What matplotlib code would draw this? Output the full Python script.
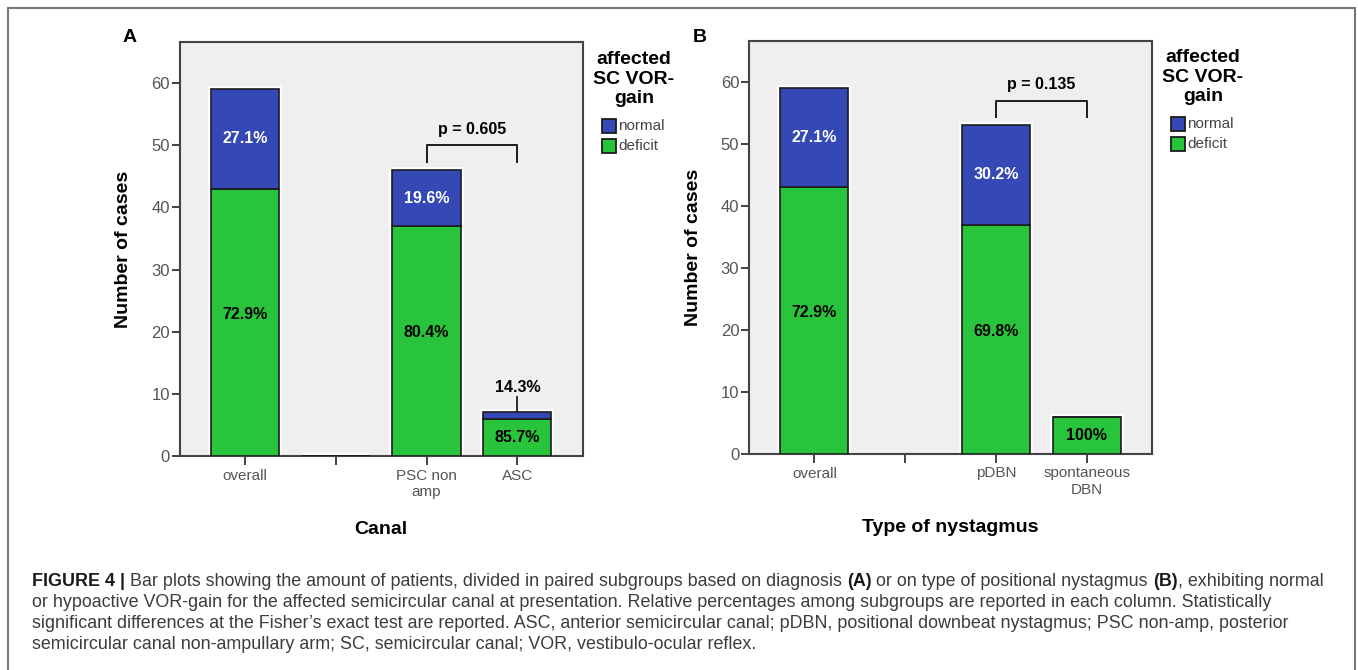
import matplotlib
matplotlib.use("Agg")
import matplotlib.pyplot as plt
from matplotlib.patches import Rectangle
import numpy as np

plt.rcParams["font.family"] = ["Liberation Sans", "DejaVu Sans"]

W, H = 1358, 670

# panel A: canal
canal_labels = ["overall", "", "PSC non\namp", "ASC"]
canal_deficit = [43, 0, 37, 6]
canal_normal = [16, 0, 9, 1]
canal_pct_normal = ["27.1%", "", "19.6%", "14.3%"]
canal_pct_deficit = ["72.9%", "", "80.4%", "85.7%"]
canal_p = "p = 0.605"

# panel B: type of nystagmus (second slot is an empty spacer)
nyst_labels = ["overall", "", "pDBN", "spontaneous\nDBN"]
nyst_deficit = [43, np.nan, 37, 6]
nyst_normal = [16, np.nan, 16, 0]
nyst_pct_normal = ["27.1%", "", "30.2%", ""]
nyst_pct_deficit = ["72.9%", "", "69.8%", "100%"]
nyst_p = "p = 0.135"

legend_title = ["affected", "SC VOR-", "gain"]
legend_labels = ["normal", "deficit"]

caption_lines = [
    [("FIGURE 4 |", "bold"),
     ("Bar plots showing the amount of patients, divided in paired subgroups based on diagnosis", "normal"),
     ("(A)", "bold"),
     ("or on type of positional nystagmus", "normal"),
     ("(B)", "bold"),
     (", exhibiting normal", "nospace")],
    [("or hypoactive VOR-gain for the affected semicircular canal at presentation. Relative percentages "
      "among subgroups are reported in each column. Statistically", "normal")],
    [("significant differences at the Fisher\u2019s exact test are reported. ASC, anterior semicircular "
      "canal; pDBN, positional downbeat nystagmus; PSC non-amp, posterior", "normal")],
    [("semicircular canal non-ampullary arm; SC, semicircular canal; VOR, vestibulo-ocular reflex.", "normal")],
]

BLUE = "#3449b6"
GREEN = "#28c43b"
EDGE = "#1c1c1c"
BG = "#efefef"


def fx(px):
    return px / W


def fy(py):
    return 1 - py / H


def draw_panel(ax, labels, deficit, normal, pct_normal, pct_deficit, ptext, xlabel):
    x = np.arange(len(labels))
    deficit = np.array(deficit, dtype=float)
    normal = np.array(normal, dtype=float)
    total = deficit + normal

    # white halo around each column
    ax.bar(x, total, width=0.75, color="none", edgecolor="white", linewidth=4, zorder=2)
    ax.bar(x, deficit, width=0.75, color=GREEN, edgecolor=EDGE, linewidth=1.2, zorder=3)
    ax.bar(x, normal, bottom=deficit, width=0.75, color=BLUE, edgecolor=EDGE, linewidth=1.2, zorder=3)

    for i in range(len(x)):
        if pct_deficit[i]:
            # tall segments get their label a bit above the middle
            yl = deficit[i] / 2 + (1.3 if deficit[i] > 20 else 0)
            ax.text(x[i], yl, pct_deficit[i], ha="center", va="center",
                    fontsize=11.5, fontweight="bold", color="black", zorder=4)
        if pct_normal[i]:
            if normal[i] >= 3:
                ax.text(x[i], deficit[i] + normal[i] / 2, pct_normal[i], ha="center", va="center",
                        fontsize=11.5, fontweight="bold", color="white", zorder=4)
            else:
                ax.plot([x[i], x[i]], [total[i], total[i] + 2.5], color=EDGE, lw=1.3, zorder=4)
                ax.text(x[i], total[i] + 4.1, pct_normal[i], ha="center", va="center",
                        fontsize=11.5, fontweight="bold", color="black", zorder=4)

    # significance bracket between the last two columns
    base = np.nanmax(total[2:])
    x1, x2 = x[2], x[3]
    ax.plot([x1, x1, x2, x2], [base + 1.3, base + 4, base + 4, base + 1.3],
            color=EDGE, lw=1.4, zorder=4)
    ax.text((x1 + x2) / 2, base + 6.6, ptext, ha="center", va="center",
            fontsize=11.5, fontweight="bold", color="black")

    ax.set_xlim(-0.72, 3.72)
    ax.set_ylim(0, 66.6)
    ax.set_facecolor(BG)
    ax.set_yticks(range(0, 61, 10))
    ax.set_xticks(x)
    ax.set_xticklabels(labels, multialignment="center")
    ax.tick_params(axis="both", color="#333333", labelcolor="#555555", width=1.3)
    ax.tick_params(axis="x", length=6.5, pad=2.5, labelsize=11)
    ax.tick_params(axis="y", length=6, pad=1, labelsize=12)
    for s in ax.spines.values():
        s.set_color("#444444")
        s.set_linewidth(1.5)

    ax.set_ylabel("Number of cases", fontsize=14, fontweight="bold")
    ax.set_xlabel(xlabel, fontsize=14, fontweight="bold")
    ax.yaxis.set_label_coords(-0.117, 0.5)
    ax.xaxis.set_label_coords(0.5, -0.157)


def draw_legend(fig, cx, top):
    ys = [top, top + 19.5, top + 38.5]
    for txt, y in zip(legend_title, ys):
        fig.text(fx(cx), fy(y), txt, ha="center", va="center", fontsize=14, fontweight="bold")
    for i, (lab, col) in enumerate(zip(legend_labels, [BLUE, GREEN])):
        y0 = top + 59 + i * 20
        fig.patches.append(Rectangle((fx(cx - 32), fy(y0 + 14)), 14 / W, 14 / H,
                                     transform=fig.transFigure, facecolor=col,
                                     edgecolor=EDGE, linewidth=1.3))
        fig.text(fx(cx - 16), fy(y0 + 7), lab, ha="left", va="center",
                 fontsize=11, color="#444444")


def draw_caption(fig, x0, y_first, pitch, width_target):
    renderer = fig.canvas.get_renderer()

    def seg_width(txt, weight, size):
        t = fig.text(0, 0, txt, fontsize=size, fontweight=weight)
        w = t.get_window_extent(renderer).width
        t.remove()
        return w

    def layout(line, size):
        space = seg_width("a a", "normal", size) - seg_width("aa", "normal", size)
        pos = []
        cur = 0.0
        for j, (txt, kind) in enumerate(line):
            weight = "bold" if kind == "bold" else "normal"
            if j > 0 and kind != "nospace":
                cur += space
            pos.append((cur, txt, weight))
            cur += seg_width(txt, weight, size)
        return pos, cur

    size = 12.0
    _, w = layout(caption_lines[0], size)
    size = size * width_target / w

    for k, line in enumerate(caption_lines):
        pos, _ = layout(line, size)
        y = y_first + k * pitch
        for off, txt, weight in pos:
            fig.text(fx(x0 + off), fy(y), txt, ha="left", va="center", fontsize=size,
                     fontweight=weight, color="#1a1a1a" if weight == "bold" else "#3c3c3c")


fig = plt.figure(figsize=(W / 100, H / 100), dpi=100)
fig.patch.set_facecolor("white")

ax_a = fig.add_axes([fx(179.5), fy(456), 403.2 / W, 414 / H])
ax_b = fig.add_axes([fx(749), fy(454), 403 / W, 413 / H])

draw_panel(ax_a, canal_labels, canal_deficit, canal_normal,
           canal_pct_normal, canal_pct_deficit, canal_p, "Canal")
draw_panel(ax_b, nyst_labels, nyst_deficit, nyst_normal,
           nyst_pct_normal, nyst_pct_deficit, nyst_p, "Type of nystagmus")

fig.text(fx(130), fy(37), "A", ha="center", va="center", fontsize=14, fontweight="bold")
fig.text(fx(700), fy(37), "B", ha="center", va="center", fontsize=14, fontweight="bold")

draw_legend(fig, 634, 60)
draw_legend(fig, 1203, 58)

# outer frame around figure and caption
fig.patches.append(Rectangle((fx(7.5), -0.05), (1355 - 7.5) / W, fy(8) + 0.05,
                             transform=fig.transFigure, facecolor="none",
                             edgecolor="#777777", linewidth=1.5))

draw_caption(fig, 32, 581.5, 21, 1296)

fig.savefig("out.png", dpi=100)
